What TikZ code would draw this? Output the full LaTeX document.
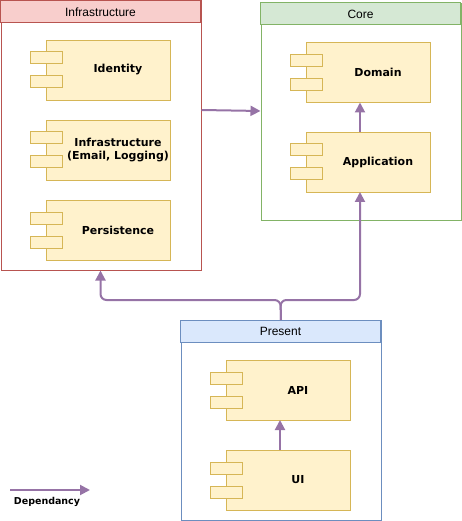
\documentclass[tikz,border=0pt]{standalone}
\usepackage{fontspec}
\setmainfont{Liberation Sans}
\newfontfamily\compfont{DejaVu Sans}
\usetikzlibrary{arrows.meta}
\definecolor{compfill}{HTML}{FFF2CC}
\definecolor{compdraw}{HTML}{D6B656}
\definecolor{redfill}{HTML}{F8CECC}
\definecolor{reddraw}{HTML}{B85450}
\definecolor{greenfill}{HTML}{D5E8D4}
\definecolor{greendraw}{HTML}{82B366}
\definecolor{bluefill}{HTML}{DAE8FC}
\definecolor{bluedraw}{HTML}{6C8EBF}
\definecolor{deparrow}{HTML}{9673A6}
\begin{document}
\begin{tikzpicture}[x=1pt,y=-1pt,
  compbody/.style={draw=compdraw,fill=compfill,line width=1pt},
  comptab/.style={draw=compdraw,fill=compfill,line width=1pt},
  complabel/.style={font=\compfont\bfseries\fontsize{11}{13.5}\selectfont,align=center,text=black},
  grp/.style={line width=1pt},
  hdr/.style={font=\fontsize{12}{14}\selectfont},
  dep/.style={draw=deparrow,line width=2pt,-{Triangle[length=10pt,width=10pt]},rounded corners=6pt}
]
\useasboundingbox (0,0) rectangle (461,521);
% component macro: name, x-left of body, y-top, label
\newcommand{\mycomp}[4]{%
  \node[compbody,minimum width=124pt,minimum height=60pt,anchor=north west,inner sep=0pt] (#1) at (#2,#3) {};
  \draw[comptab] (#2-16,#3+12) rectangle (#2+16,#3+24);
  \draw[comptab] (#2-16,#3+36) rectangle (#2+16,#3+48);
  \coordinate (#1-top) at (#2+54,#3);
  \coordinate (#1-bot) at (#2+54,#3+60);
  \node[complabel] (#1-label) at (#2+72,#3+30) {#4};
}
% Infrastructure group
\node[grp,draw=reddraw,minimum width=200pt,minimum height=269pt,anchor=north west,inner sep=0pt] (infra) at (0.5,0.5) {};
\draw[grp,draw=reddraw,fill=redfill] (0.5,0.5) rectangle (200.5,23);
\node[hdr] (infrahdr) at (100.5,12) {Infrastructure};
\mycomp{identity}{46}{40}{Identity}
\mycomp{infracomp}{46}{120}{Infrastructure\\(Email,\ Logging)}
\mycomp{persistence}{46}{200}{Persistence}
% Core group
\node[grp,draw=greendraw,minimum width=200pt,minimum height=217pt,anchor=north west,inner sep=0pt] (core) at (260.5,3) {};
\draw[grp,draw=greendraw,fill=greenfill] (260.5,3) rectangle (460.5,25);
\node[hdr] (corehdr) at (360.5,14) {Core};
\mycomp{domain}{306}{42.5}{Domain}
\mycomp{application}{306}{132}{Application}
% Present group
\node[grp,draw=bluedraw,minimum width=200pt,minimum height=200pt,anchor=north west,inner sep=0pt] (present) at (180.5,320) {};
\draw[grp,draw=bluedraw,fill=bluefill] (180.5,320) rectangle (380.5,342.5);
\node[hdr] (presenthdr) at (280.5,331) {Present};
\mycomp{api}{226}{360}{API}
\mycomp{ui}{226}{450}{UI}
% arrows
\coordinate (split) at (280.5,300);
\draw[dep] (infra.east |- 0,110) -- (core.west |- 0,111);
\draw[dep] (application-top) -- (domain-bot);
\draw[dep] (ui-top) -- (api-bot);
\draw[dep] (present.north) -- (split) -- (100.5,300) -- (infra.south -| 100.5,0);
\draw[dep] (present.north) -- (split) -- (application-bot |- split) -- (application-bot);
% legend
\coordinate (legA) at (10,490);
\coordinate (legB) at (90,490);
\draw[dep] (legA) -- (legB);
\node[font=\compfont\bfseries\fontsize{9.5}{11}\selectfont] (legtext) at (47,502) {Dependancy};
\end{tikzpicture}
\end{document}
